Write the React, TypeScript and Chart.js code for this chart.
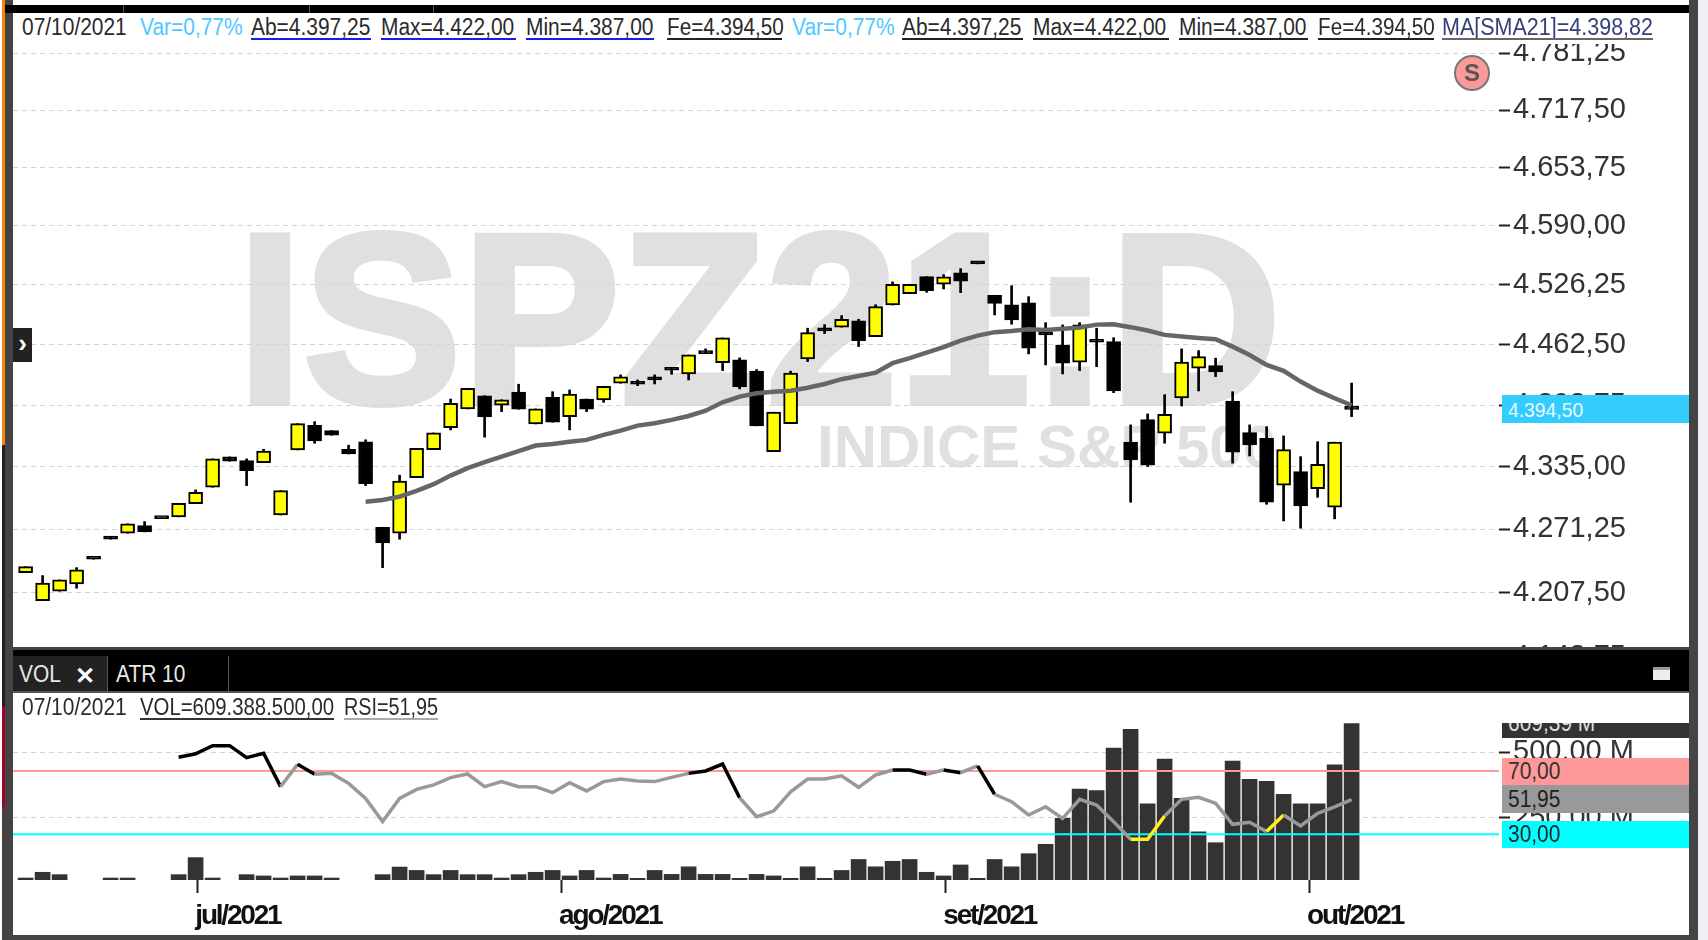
import React, { useEffect, useRef } from "react";
import Chart, { Scale } from "chart.js/auto";

const opens = [4227.8,4199.8,4209.2,4216.5,4241.8,4264,4267.4,4275.1,4282.9,4284,4297.4,4314.2,4345.3,4341.5,4339.5,4285.9,4352.5,4378,4372.5,4353.2,4361,4273.5,4267.4,4324.1,4352.8,4375.6,4395,4408.8,4398.8,4412.7,4379.4,4407.1,4387,4405.4,4404.3,4421.9,4423.6,4426.4,4438.3,4431.6,4455.8,4443.5,4446.4,4434.5,4350.8,4379.7,4447.4,4479.9,4481,4487.6,4471,4504.6,4516.7,4535,4526.8,4539,4549.3,4515,4504.9,4507,4476,4462,4444,4467.8,4465.7,4360.5,4383.9,4369.8,4406.4,4437.6,4440.4,4403.3,4370.4,4364.6,4316.3,4330.2,4312.8,4293.8,4397.25];
const highs = [4233.8,4224.8,4220.5,4232.8,4241.8,4264,4276.9,4279.2,4282.9,4297.9,4311.5,4343.3,4345.3,4343.3,4353.2,4310.7,4379.7,4381.8,4372.5,4357.4,4363,4273.5,4326.5,4354.2,4370.1,4405.3,4416.6,4408.8,4404.6,4420.8,4395,4413,4414.8,4405.4,4418.7,4430.6,4425.3,4430.6,4438.3,4451.6,4458,4469.6,4448.5,4436.2,4391.6,4434.5,4479.9,4483.7,4493.3,4489.4,4504.9,4529.3,4526.8,4535,4537.2,4543.6,4549.3,4515,4525.3,4513.5,4485.8,4483.4,4485.8,4479.9,4469.9,4378.4,4389.8,4409.9,4458,4456.2,4448.2,4413,4378.4,4376.6,4367,4345.6,4361,4360.5,4422];
const lows = [4227.8,4199.8,4209.2,4212.2,4241.2,4261.4,4267.4,4268.8,4282.3,4284,4297.4,4314.2,4340.9,4315.9,4339.5,4285.9,4352.5,4359.4,4367.7,4348.4,4315.9,4232.8,4261.4,4324.1,4352.8,4373.2,4395,4365.7,4392.2,4394.7,4379.4,4381.2,4373.2,4392.2,4401.9,4421.9,4419.3,4421.1,4431.3,4425.3,4453,4435.1,4415.9,4377.4,4350.8,4379.7,4444.6,4474.2,4481,4460.5,4471,4504.6,4516.7,4518.2,4521.8,4517.8,4548.7,4494,4484.1,4452.7,4441.1,4431.6,4435.1,4439.3,4412,4298.9,4335.4,4359.4,4398.1,4413.8,4428.8,4338.9,4346.3,4296.8,4279.9,4272.5,4303.9,4282,4387];
const closes = [4233.8,4217.2,4220.5,4230.5,4241.2,4261.4,4276.9,4268.8,4282.3,4297.9,4309.1,4343.3,4340.9,4331.3,4351.2,4310.7,4379.7,4361.8,4367.7,4348.4,4317.9,4257.6,4320.4,4354.2,4370.1,4400.9,4416.6,4386.7,4404.6,4394.7,4395,4381.2,4410.6,4394.7,4418.7,4428.5,4420.8,4425.3,4435.5,4451.6,4453,4469.6,4418,4377.4,4391.6,4432.4,4475.2,4477,4489.4,4466.8,4502.8,4526.8,4526.8,4519.9,4534.7,4530.1,4548.7,4506.4,4488.7,4458.7,4472.8,4442.9,4483.4,4465,4413.8,4342.2,4336.8,4389.5,4444,4449.9,4433.8,4350.1,4357.7,4298.9,4352.8,4295.1,4337.8,4360.5,4394.5];
const sma21 = [null,null,null,null,null,null,null,null,null,null,null,null,null,null,null,null,null,null,null,null,4299.5,4301.2,4304.6,4310.4,4317.3,4326.1,4333.7,4339.9,4345.6,4351.2,4357,4358.7,4361,4362.9,4368,4372.5,4377.7,4380.2,4383.6,4387.7,4393.2,4401.9,4407.8,4411.3,4413,4414.1,4417.2,4421.1,4426.1,4429.5,4433,4442.9,4448.2,4454,4459.8,4466.8,4472,4475.7,4477,4478.8,4478.1,4479.2,4480.5,4483.7,4484.1,4481,4477.4,4472.8,4471,4469.6,4468.2,4460.4,4451.6,4441.1,4434.8,4423.6,4414.1,4406.1,4398.82];
const volumes = [19,41,32,null,null,19,19,null,null,32,97,19,null,32,27,19,27,27,19,null,null,32,61,48,32,48,32,32,19,32,41,48,27,48,19,33,18,48,33,62,33,33,18,33,27,18,62,18,48,90,62,83,90,41,27,69,18,90,62,112,148,247,359,353,516,587,303,474,324,196,154,466,396,389,339,303,303,452,609.39];
const rsi = [null,null,null,null,null,null,null,null,null,78.7,80.9,86,86,78.4,81.2,60.1,74.2,67.9,68.5,62.2,52.7,38,52.7,58.4,61.2,65.8,68.1,60.1,63.3,60.1,60.1,56.3,62.6,57.4,63.3,64.9,63.7,63.3,66,68.5,70,74.4,53.1,41.1,44.7,56.9,64.9,64.9,67,59.7,67.5,70.6,70.6,67.9,70.6,68.9,73.2,55.3,50.6,42.2,47.4,40.1,52.1,48.5,38,26.9,26.9,41.6,52.1,53.4,49.6,36.3,37.6,31.7,42.2,35.3,43.3,47.4,51.95];
const blackRsiSegments = [9,10,11,12,13,14,16,39,40,41,51,52,54,56];
const yellowRsiSegments = [65,66,73];
const rsiUpper = [70, 70];
const rsiLower = [30, 30];

const priceTicks = [4781.25,4717.5,4653.75,4590,4526.25,4462.5,4398.75,4335,4271.25,4207.5,4143.75];
const volumeTicks = [250, 500];
const monthPositions = [10.1, 31.5, 54.1, 75.5];
const monthLabels = ["jul/2021", "ago/2021", "set/2021", "out/2021"];

const X_MIN = -0.741;
const X_MAX = 86.67;
const xs = opens.map((_, i) => i);

const fmt = (v: number) => v.toLocaleString("pt-BR", { minimumFractionDigits: 2, maximumFractionDigits: 2 });
const GRID = "#d4d4d4";
const AXIS_FONT = { family: "'Liberation Sans'", size: 29 };

function rightAxisFit(scale: any) { scale.width = 190; scale.paddingTop = 0; scale.paddingBottom = 0; }

const condensedX = {
  id: "condensedX",
  beforeDraw(chart: any) {
    const s = chart.scales.x;
    if (!s || s.__condensed) return;
    s.__condensed = true;
    s.drawLabels = function (area: any) {
      const ctx = this.ctx;
      ctx.save();
      ctx.letterSpacing = "-2.2px";
      (Scale as any).prototype.drawLabels.call(this, area);
      ctx.restore();
    };
  },
};

const L = ({ x, base, children, color = "#2a2a2a", size = 23, sx = 0.91, z = 6 }: any) => (
  <div style={{ position: "absolute", left: x, top: base - size * 0.85, fontSize: size, lineHeight: `${size}px`, color, zIndex: z, whiteSpace: "nowrap", transform: `scaleX(${sx})`, transformOrigin: "left top", fontFamily: "'Liberation Sans'" }}>{children}</div>
);
const Box = ({ x, y, w, h, c, z = 1, style = {}, children }: any) => (
  <div style={{ position: "absolute", left: x, top: y, width: w, height: h, background: c, zIndex: z, ...style }}>{children}</div>
);

const headerItems: any[] = [
  { t: "07/10/2021", x: 22, c: "#2a2a2a" },
  { t: "Var=0,77%", x: 140, c: "#4fc8ff" },
  { t: "Ab=4.397,25", x: 251, w: 120, u: "#1a1aee" },
  { t: "Max=4.422,00", x: 381, w: 135, u: "#1a1aee" },
  { t: "Min=4.387,00", x: 526, w: 128, u: "#1a1aee" },
  { t: "Fe=4.394,50", x: 667, w: 115, u: "#222", sx: 0.9 },
  { t: "Var=0,77%", x: 792, c: "#4fc8ff" },
  { t: "Ab=4.397,25", x: 902, w: 121, u: "#222" },
  { t: "Max=4.422,00", x: 1033, w: 136, u: "#222" },
  { t: "Min=4.387,00", x: 1179, w: 129, u: "#222" },
  { t: "Fe=4.394,50", x: 1318, w: 116, u: "#222", sx: 0.9 },
  { t: "MA[SMA21]=4.398,82", x: 1442, w: 211, u: "#666", c: "#33407a", sx: 0.935 },
];

export default function App() {
  const topRef = useRef<HTMLCanvasElement>(null);
  const botRef = useRef<HTMLCanvasElement>(null);

  useEffect(() => {
    const xBase = { type: "linear", min: X_MIN, max: X_MAX, offset: false };
    const bodyColors = opens.map((o, i) => (closes[i] >= o ? "#ffff00" : "#000000"));
    const top = new Chart(topRef.current!, {
      type: "bar",
      data: {
        datasets: [
          { type: "line", label: "SMA21", data: xs.map((x) => ({ x, y: sma21[x] })), borderColor: "#666666", borderWidth: 4.5, pointRadius: 0, order: 0, tension: 0 },
          { label: "Corpo", data: xs.map((x) => ({ x, y: [opens[x], closes[x]] })), backgroundColor: bodyColors, borderColor: "#000000", borderWidth: 2, borderSkipped: false, barThickness: 14, minBarLength: 3, grouped: false, order: 1 },
          { label: "Pavio", data: xs.map((x) => ({ x, y: [lows[x], highs[x]] })), backgroundColor: "#000000", borderWidth: 0, barThickness: 2, grouped: false, order: 2 },
        ],
      } as any,
      options: {
        animation: false, responsive: false, maintainAspectRatio: false,
        layout: { padding: 0 },
        plugins: { legend: { display: false }, tooltip: { enabled: false } },
        scales: {
          x: { ...xBase, display: false, grid: { display: false } },
          y: {
            type: "logarithmic", position: "right", min: 4111.8, max: 4827.35,
            afterBuildTicks: (s: any) => { s.ticks = priceTicks.map((value) => ({ value })); },
            afterFit: rightAxisFit,
            border: { display: false, dash: [5, 4] },
            grid: { color: GRID, lineWidth: 1, tickColor: "#222", tickLength: 11, tickWidth: 2 } as any,
            ticks: { autoSkip: false, padding: 3, color: "#333", font: AXIS_FONT, callback: (v: any) => fmt(Number(v)) },
          },
        },
      } as any,
    });

    const bot = new Chart(botRef.current!, {
      type: "bar",
      plugins: [condensedX],
      data: {
        datasets: [
          { type: "line", label: "RSI", yAxisID: "yRsi", data: xs.map((x) => ({ x, y: rsi[x] })), borderWidth: 3.5, pointRadius: 0, order: 0, borderColor: "#999999",
            segment: { borderColor: (c: any) => blackRsiSegments.includes(c.p0DataIndex) ? "#000000" : yellowRsiSegments.includes(c.p0DataIndex) ? "#ffee22" : "#999999" } },
          { type: "line", label: "70", yAxisID: "yRsi", data: [{ x: X_MIN, y: rsiUpper[0] }, { x: X_MAX, y: rsiUpper[1] }], borderColor: "#ff9999", borderWidth: 2, pointRadius: 0, order: 1 },
          { type: "line", label: "30", yAxisID: "yRsi", data: [{ x: X_MIN, y: rsiLower[0] }, { x: X_MAX, y: rsiLower[1] }], borderColor: "#00ffff", borderWidth: 2, pointRadius: 0, order: 1 },
          { label: "VOL", yAxisID: "y", data: xs.map((x) => ({ x, y: volumes[x] })), backgroundColor: "#333333", barThickness: 15, grouped: false, order: 2 },
        ],
      } as any,
      options: {
        animation: false, responsive: false, maintainAspectRatio: false,
        layout: { padding: 0 },
        plugins: { legend: { display: false }, tooltip: { enabled: false } },
        scales: {
          x: {
            ...xBase,
            afterBuildTicks: (s: any) => { s.ticks = monthPositions.map((value) => ({ value })); },
            afterFit: (s: any) => { s.height = 55; s.paddingLeft = 0; s.paddingRight = 0; },
            border: { display: false },
            grid: { drawOnChartArea: false, drawTicks: true, tickLength: 13, tickColor: "#222", tickWidth: 2, offset: false },
            ticks: { autoSkip: false, maxRotation: 0, align: "start", padding: 6, labelOffset: -2, color: "#111", font: { family: "'Liberation Sans'", size: 28, weight: "bold" }, callback: (_: any, i: number) => monthLabels[i] },
          },
          y: {
            type: "linear", position: "right", min: 11.5, max: 730,
            afterBuildTicks: (s: any) => { s.ticks = volumeTicks.map((value) => ({ value })); },
            afterFit: rightAxisFit,
            border: { display: false, dash: [5, 4] },
            grid: { color: GRID, lineWidth: 1, tickColor: "#222", tickLength: 11, tickWidth: 2 } as any,
            ticks: { autoSkip: false, padding: 3, color: "#333", font: AXIS_FONT, callback: (v: any) => `${fmt(Number(v))} M` },
          },
          yRsi: { type: "linear", display: false, min: 1.14, max: 119.9 },
        },
      } as any,
    });
    return () => { top.destroy(); bot.destroy(); };
  }, []);

  return (
    <div style={{ position: "relative", width: 1708, height: 940, overflow: "hidden", background: "#fff", fontFamily: "'Liberation Sans'" }}>
      <style>{`html,body{margin:0;padding:0;background:#fff}`}</style>

      {/* frame */}
      <Box x={1698} y={0} w={10} h={940} c="#eef0f4" z={1} />
      <Box x={5} y={0} w={8} h={940} c="#444" z={7} />
      <Box x={2} y={0} w={3} h={445} c="#f08a00" z={7} />
      <Box x={2} y={445} w={3} h={262} c="#222" z={7} />
      <Box x={2} y={707} w={3} h={100} c="#a5002a" z={7} />
      <Box x={2} y={807} w={3} h={133} c="#444" z={7} />
      <Box x={5} y={5} w={1684} h={8} c="#000" z={7} />
      {[123, 309, 433].map((x) => <Box key={x} x={x} y={5} w={1} h={8} c="#555" z={8} />)}
      <Box x={1689} y={0} w={9} h={940} c="#444" z={7} />
      <Box x={5} y={935} w={1693} h={5} c="#444" z={7} />

      {/* watermark */}
      <div style={{ position: "absolute", left: 237, top: 196.5, fontSize: 244, lineHeight: "244px", fontWeight: 700, color: "#e0e0e0", WebkitTextStroke: "6px #e0e0e0", zIndex: 1, whiteSpace: "nowrap", transform: "scaleX(0.975)", transformOrigin: "left top" }}>ISPZ21:D</div>
      <div style={{ position: "absolute", left: 817, top: 417, fontSize: 60, lineHeight: "60px", fontWeight: 700, color: "#e0e0e0", zIndex: 1, whiteSpace: "nowrap" }}>INDICE S&amp;P 500</div>

      <canvas ref={topRef} width={1676} height={677} style={{ position: "absolute", left: 13, top: 13, width: 1676, height: 677, zIndex: 2 }} />

      {/* header */}
      <Box x={13} y={13} w={1676} h={31} c="#fff" z={3} />
      {headerItems.map((h, i) => (
        <React.Fragment key={i}>
          <L x={h.x} base={36} color={h.c} sx={h.sx ?? 0.91}>{h.t}</L>
          {h.u && <Box x={h.x} y={38} w={h.w} h={2} c={h.u} z={6} />}
        </React.Fragment>
      ))}

      {/* S badge */}
      <div style={{ position: "absolute", left: 1454, top: 55, width: 36, height: 36, boxSizing: "border-box", borderRadius: "50%", background: "#fb9a9a", border: "2px solid #777", color: "#555", fontWeight: 700, fontSize: 24, lineHeight: "32px", textAlign: "center", zIndex: 5 }}>S</div>

      {/* chevron */}
      <div style={{ position: "absolute", left: 13, top: 328, width: 19, height: 34, background: "#222", color: "#fff", fontWeight: 700, fontSize: 26, lineHeight: "30px", textAlign: "center", zIndex: 5 }}>›</div>

      {/* price tag */}
      <Box x={1502} y={395} w={187} h={28} c="#33ccff" z={5} />
      <L x={1508} base={417} size={21} sx={0.92} color="#eafaff">4.394,50</L>

      {/* tab bar */}
      <Box x={13} y={647} w={1676} h={45} c="#000" z={5} />
      <Box x={13} y={647} w={1676} h={3} c="#444" z={5} />
      <Box x={13} y={691} w={1676} h={2} c="#555" z={5} />
      <Box x={13} y={656} w={94} h={35} c="#222" z={5} />
      <Box x={107} y={656} w={1} h={35} c="#555" z={6} />
      <Box x={228} y={656} w={1} h={35} c="#555" z={6} />
      <L x={19} base={683} color="#e8e8e8">VOL</L>
      <L x={75} base={684} size={24} sx={1} color="#fff"><b>✕</b></L>
      <L x={116} base={683} color="#e8e8e8">ATR 10</L>
      <Box x={1653} y={667} w={17} h={13} c="#eee" z={6} style={{ borderTop: "3px solid #999", boxSizing: "border-box" }} />

      <canvas ref={botRef} width={1676} height={243} style={{ position: "absolute", left: 13, top: 692, width: 1676, height: 243, zIndex: 4 }} />

      {/* sub header */}
      <L x={22} base={716}>07/10/2021</L>
      <L x={140} base={716} sx={0.885}>VOL=609.388.500,00</L>
      <Box x={140} y={718} w={194} h={2} c="#333" z={6} />
      <L x={344} base={716} sx={0.86}>RSI=51,95</L>
      <Box x={344} y={718} w={94} h={2} c="#aaa" z={6} />

      {/* value tags */}
      <Box x={1502} y={723} w={187} h={15} c="#333" z={5} style={{ overflow: "hidden" }}>
        <div style={{ position: "absolute", left: 6, top: -11, fontSize: 23, lineHeight: "23px", color: "#ddd", whiteSpace: "nowrap", transform: "scaleX(0.91)", transformOrigin: "left top" }}>609,39 M</div>
      </Box>
      <Box x={1502} y={758} w={187} h={27} c="#ff9999" z={5} />
      <L x={1508} base={780} color="#333">70,00</L>
      <Box x={1502} y={785} w={187} h={28} c="#999999" z={5} />
      <L x={1508} base={808} color="#222">51,95</L>
      <Box x={1502} y={821} w={187} h={27} c="#00ffff" z={5} />
      <L x={1508} base={843} color="#222">30,00</L>
    </div>
  );
}
